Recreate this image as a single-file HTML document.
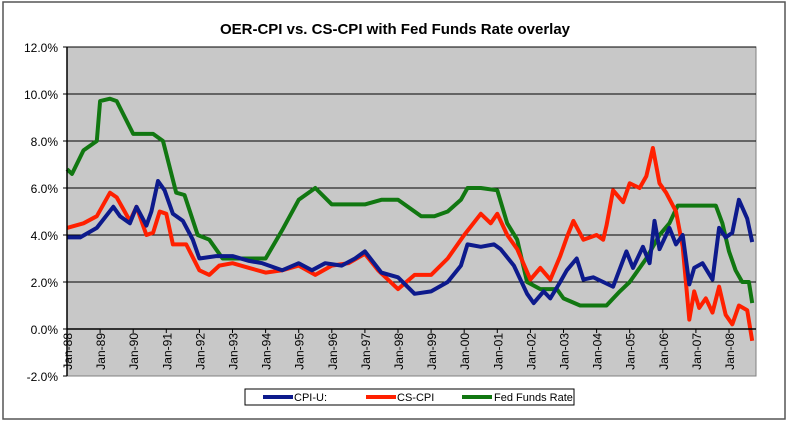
<!DOCTYPE html>
<html><head><meta charset="utf-8"><style>
body{margin:0;background:#fff;}
svg{display:block;font-family:"Liberation Sans",Arial,sans-serif;}
</style></head><body>
<svg id="c" width="790" height="426">
<rect x="3" y="2" width="782" height="417" fill="#fff" stroke="#555" stroke-width="1.5"/>
<text x="395" y="34" text-anchor="middle" font-size="15" font-weight="bold">OER-CPI vs. CS-CPI with Fed Funds Rate overlay</text>
<rect x="67" y="47" width="689" height="329" fill="#c8c8c8" stroke="#808080"/>
<g id="grid"></g><g id="series"></g><g id="axes"></g>
<g>
<rect x="245" y="389" width="329" height="16" fill="#fff" stroke="#000"/>
<line x1="263" y1="397" x2="293" y2="397" stroke="#0d1a8c" stroke-width="4"/>
<text x="294" y="401" font-size="11">CPI-U:</text>
<line x1="366" y1="397" x2="396" y2="397" stroke="#ff2000" stroke-width="4"/>
<text x="397" y="401" font-size="11">CS-CPI</text>
<line x1="462" y1="397" x2="492" y2="397" stroke="#117711" stroke-width="4"/>
<text x="494" y="401" font-size="11">Fed Funds Rate</text>
</g>
</svg>
<script>
const yTicks=[12,10,8,6,4,2,0,-2];
const xYears=[88,89,90,91,92,93,94,95,96,97,98,99,0,1,2,3,4,5,6,7,8];
const cpiT=[1988,1988.4,1988.9,1989.4,1989.6,1989.9,1990.1,1990.4,1990.55,1990.75,1990.95,1991.2,1991.5,1991.8,1992,1992.5,1993,1993.5,1993.9,1994.5,1995,1995.4,1995.8,1996.3,1996.7,1997,1997.5,1998,1998.5,1999,1999.5,1999.9,2000.1,2000.5,2000.9,2001.1,2001.5,2001.9,2002.1,2002.4,2002.6,2002.9,2003.1,2003.4,2003.6,2003.9,2004.2,2004.5,2004.9,2005.1,2005.4,2005.6,2005.75,2005.9,2006.2,2006.4,2006.6,2006.8,2006.95,2007.2,2007.5,2007.7,2007.9,2008.1,2008.3,2008.55,2008.7];
const cpiV=[3.9,3.9,4.3,5.2,4.8,4.5,5.2,4.4,5.0,6.3,5.9,4.9,4.6,3.8,3.0,3.1,3.1,2.9,2.8,2.5,2.8,2.5,2.8,2.7,3.0,3.3,2.4,2.2,1.5,1.6,2.0,2.7,3.6,3.5,3.6,3.4,2.7,1.5,1.1,1.6,1.3,2.0,2.5,3.0,2.1,2.2,2.0,1.8,3.3,2.6,3.5,2.8,4.6,3.4,4.3,3.6,4.0,1.9,2.6,2.8,2.1,4.3,3.9,4.1,5.5,4.7,3.7];
const csT=[1988,1988.5,1988.9,1989.3,1989.5,1989.9,1990.1,1990.4,1990.6,1990.8,1991,1991.2,1991.6,1992,1992.3,1992.6,1993,1993.5,1994,1994.5,1995,1995.5,1996,1996.5,1997,1997.4,1998,1998.5,1999,1999.5,2000,2000.5,2000.8,2001,2001.3,2001.6,2002,2002.3,2002.6,2002.9,2003.1,2003.3,2003.6,2004,2004.2,2004.3,2004.5,2004.8,2005,2005.3,2005.5,2005.7,2005.9,2006.1,2006.4,2006.6,2006.8,2006.95,2007.1,2007.3,2007.5,2007.7,2007.9,2008.1,2008.3,2008.55,2008.7];
const csV=[4.3,4.5,4.8,5.8,5.6,4.6,5.2,4.0,4.1,5.0,4.9,3.6,3.6,2.5,2.3,2.7,2.8,2.6,2.4,2.5,2.7,2.3,2.7,2.8,3.2,2.5,1.7,2.3,2.3,3.0,4.0,4.9,4.5,4.9,4.0,3.4,2.1,2.6,2.1,3.1,3.9,4.6,3.8,4.0,3.8,4.4,5.9,5.4,6.2,6.0,6.5,7.7,6.2,5.8,5.0,3.5,0.4,1.6,0.9,1.3,0.7,1.8,0.6,0.2,1.0,0.8,-0.5];
const fedT=[1988,1988.15,1988.5,1988.9,1989.0,1989.3,1989.5,1990,1990.6,1990.9,1991.3,1991.55,1991.95,1992.3,1992.7,1993.5,1994,1994.5,1995,1995.5,1996,1996.5,1997,1997.5,1998,1998.7,1999.1,1999.5,1999.9,2000.1,2000.5,2001,2001.3,2001.6,2001.9,2002.3,2002.8,2003,2003.5,2004.3,2004.7,2005,2005.5,2005.9,2006.2,2006.45,2007,2007.6,2007.8,2008,2008.2,2008.4,2008.6,2008.7];
const fedV=[6.8,6.6,7.6,8.0,9.7,9.8,9.7,8.3,8.3,8.0,5.8,5.7,4.0,3.8,3.0,3.0,3.0,4.2,5.5,6.0,5.3,5.3,5.3,5.5,5.5,4.8,4.8,5.0,5.5,6.0,6.0,5.9,4.5,3.8,2.0,1.7,1.7,1.3,1.0,1.0,1.6,2.0,3.0,4.0,4.5,5.25,5.25,5.25,4.5,3.3,2.5,2.0,2.0,1.1];
const ns="http://www.w3.org/2000/svg";
const X0=67,X1=756,PY=33.1,Y0=329,PV=23.5;
function xs(t){return X0+(t-1988)*PY;}
function ys(v){return Y0-v*PV;}
function mk(tag,a,p){const e=document.createElementNS(ns,tag);for(const k in a)e.setAttribute(k,a[k]);p.appendChild(e);return e;}
const grid=document.getElementById('grid'),axes=document.getElementById('axes'),ser=document.getElementById('series');
yTicks.forEach(v=>{
 const y=ys(v);
 if(v>-2){const l=mk('line',{x1:X0,x2:X1,y1:y,y2:y,stroke:'#000','stroke-width':1},grid);
 
 }
 const tk=mk('line',{x1:X0-4,x2:X0,y1:y,y2:y,stroke:'#000'},axes);
 
 
 const t=mk('text',{x:X0-9,y:y+5,'text-anchor':'end','font-size':12},axes);
 t.textContent=v.toFixed(1)+'%';
 
 
});
const ax=mk('line',{x1:X0,x2:X0,y1:47,y2:376,stroke:'#000','stroke-width':1.5},axes);


const xa=mk('line',{x1:X0,x2:X1,y1:Y0,y2:Y0,stroke:'#000','stroke-width':1.5},axes);


xYears.forEach((yy,i)=>{
 const x=xs(1988+i);
 const tk=mk('line',{x1:x,x2:x,y1:Y0,y2:Y0+4,stroke:'#000'},axes);
 
 
 const t=mk('text',{x:0,y:0,'text-anchor':'end','font-size':12,transform:'translate('+(x+5)+','+(Y0+4)+') rotate(-90)'},axes);
 t.textContent='Jan-'+String(yy).padStart(2,'0');
 
 
});
function line(T,V,col,name){
 const d=T.map((t,i)=>(i?'L':'M')+xs(t).toFixed(1)+','+ys(V[i]).toFixed(1)).join('');
 const p=mk('path',{d:d,fill:'none',stroke:col,'stroke-width':4,'stroke-linejoin':'round'},ser);
 
 
}
line(fedT,fedV,'#117711','fed-funds-line');
line(csT,csV,'#ff2000','cs-cpi-line');
line(cpiT,cpiV,'#0d1a8c','cpi-u-line');
</script>
</body></html>
